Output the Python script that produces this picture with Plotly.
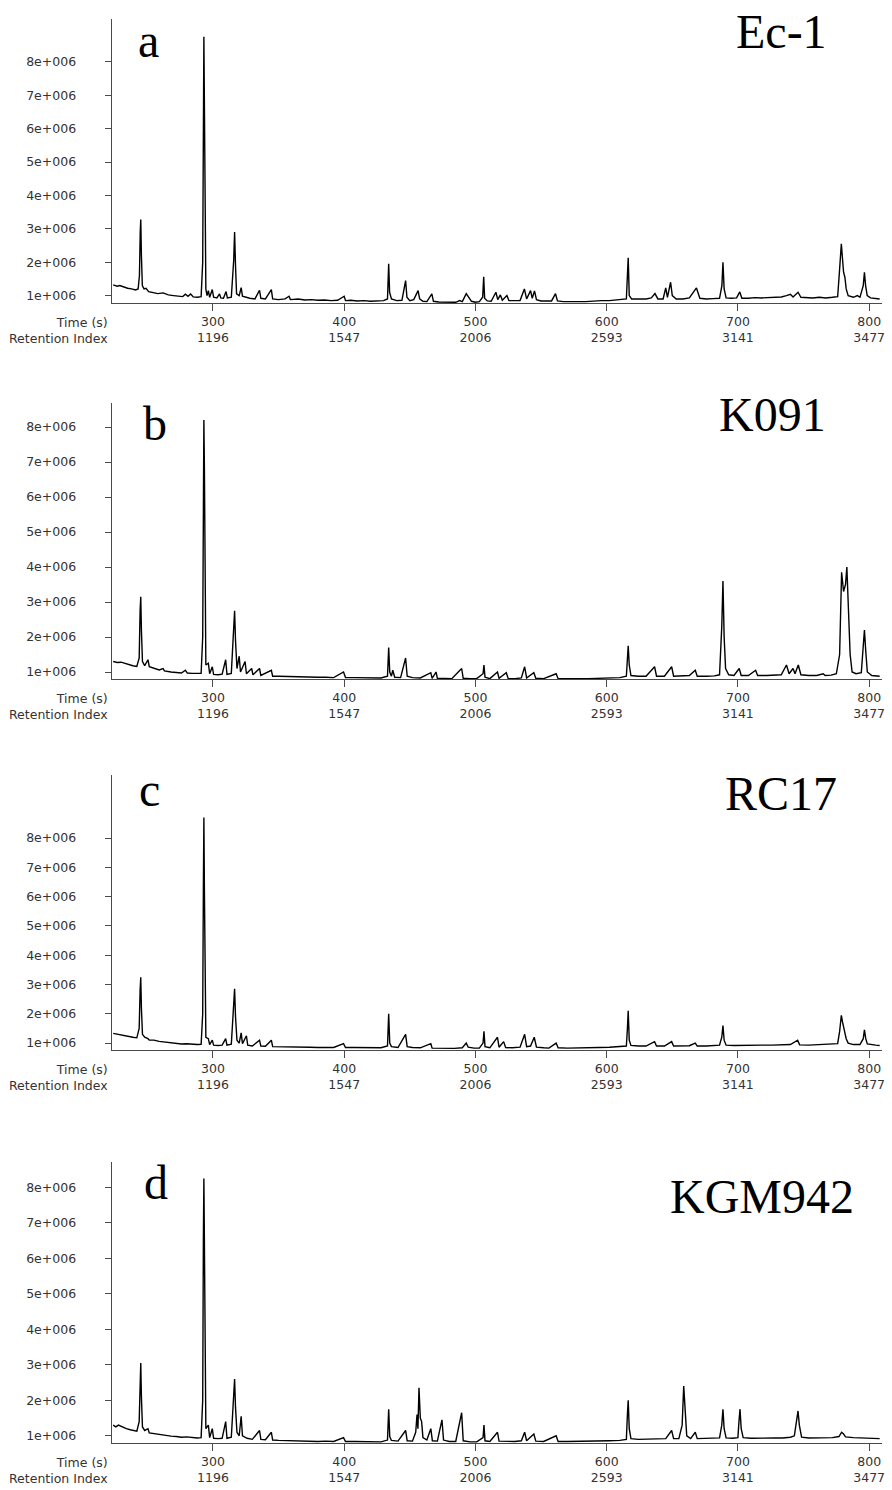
import plotly.graph_objects as go
import numpy as np

W, H = 892, 1490

# ---------------- data ----------------
time_ticks = [300, 400, 500, 600, 700, 800]
ri_labels = ["1196", "1547", "2006", "2593", "3141", "3477"]
int_ticks_m = [1, 2, 3, 4, 5, 6, 7, 8]
int_tick_labels = ["1e+006", "2e+006", "3e+006", "4e+006", "5e+006", "6e+006", "7e+006", "8e+006"]
panel_letters = ["a", "b", "c", "d"]
sample_names = ["Ec-1", "K091", "RC17", "KGM942"]

# (time s, intensity in millions)
trace_a = [
(224,1.32),(227,1.28),(229,1.3),(232,1.25),(235,1.22),(238,1.2),(241,1.17),(243,1.2),(244,1.6),(244.6,2.9),(245,3.28),(245.5,2.2),(246.2,1.3),
(247.5,1.2),(249,1.22),(251,1.12),(254,1.1),(258,1.06),(262,1.08),(266,1.02),(270,1.0),(274,0.98),(277,0.97),(279,1.04),(281,0.98),(283,1.05),
(285,0.96),(288,0.95),(291,0.97),(292.2,2.0),(292.7,6.7),(293.1,8.75),(293.5,6.7),(293.9,3.8),(294.6,1.2),(295.5,1.0),(296.5,1.15),(297.5,0.95),
(299.5,1.18),(300.5,0.95),(303,0.93),(305,1.05),(306,0.93),(308,0.92),(310,1.12),(311,0.93),(314,0.95),(315.8,2.05),(316.5,2.9),(317.2,1.9),
(318,1.05),(320,1.0),(321.5,1.24),(322.5,0.98),(325,0.95),(328,0.92),(332,0.9),(335.5,1.16),(336.5,0.92),(340,0.9),(344.5,1.18),(345.5,0.9),
(350,0.88),(355,0.9),(358,0.98),(359,0.88),(365,0.9),(370,0.87),(375,0.88),(380,0.86),(385,0.87),(390,0.85),(395,0.86),(400,0.98),(401,0.85),
(405,0.86),(410,0.84),(415,0.85),(420,0.83),(425,0.84),(430,0.85),(433,0.9),(433.9,1.95),(434.6,1.1),(436,0.9),(440,0.85),(444,0.86),(446.8,1.45),
(447.8,0.95),(450,0.85),(453,0.88),(456.3,1.15),(457.5,0.9),(460,0.83),(463,0.82),(466.8,1.05),(468,0.83),(472,0.81),(476,0.8),(480,0.79),(485,0.8),
(488,0.85),(490,0.82),(493,1.06),(494.5,0.98),(497,0.83),(500,0.8),(503,0.82),(505.5,0.95),(506.3,1.56),(507,0.92),(509,0.84),(512,0.83),(515.6,1.1),
(517,0.88),(519,1.02),(520.5,0.86),(524,1.0),(525.5,0.85),(530,0.84),(534,0.85),(537.3,1.2),(539,0.9),(542,1.15),(543.3,0.92),(545,1.14),(546.5,0.88),
(550,0.84),(555,0.83),(558,0.84),(561,1.06),(562.5,0.84),(567,0.82),(572,0.81),(578,0.82),(584,0.82),(590,0.84),(596,0.85),(602,0.85),(608,0.87),
(612,0.87),(615,0.9),(616.4,2.13),(617.2,1.0),(619,0.9),(625,0.89),(630,0.9),(634,0.93),(636.8,1.06),(639,0.9),(643,0.9),(645,1.23),(646.3,0.95),
(648.7,1.4),(650,1.0),(653,0.9),(658,0.9),(663,0.93),(668.4,1.23),(671,0.92),(676,0.9),(681,0.91),(686,0.92),(687.8,1.3),(688.6,2.0),(689.5,1.2),
(691,0.93),(695,0.92),(699,0.93),(701.4,1.11),(703,0.92),(708,0.92),(713,0.94),(718,0.93),(723,0.94),(728,0.94),(733,0.96),(737,1.0),(740,1.04),
(742,0.96),(745.8,1.1),(748,0.95),(752,0.94),(757,0.93),(762,0.95),(767,0.93),(772,0.95),(776,0.97),(777.5,1.8),(778.8,2.55),(779.5,2.2),(780.5,1.7),
(781.5,1.55),(782.5,1.2),(784,1.0),(788,0.95),(791,1.0),(793,0.95),(795.5,1.3),(796.4,1.7),(797.3,1.3),(798.5,1.0),(801,0.93),(805,0.92),(808,0.9)]

trace_b = [
(224,1.3),(227,1.27),(230,1.28),(233,1.24),(236,1.2),(239,1.18),(242,1.16),(243.8,1.4),(244.5,2.75),(245,3.15),(245.5,2.2),(246.3,1.3),(248,1.18),
(250.5,1.35),(251.5,1.15),(255,1.1),(259,1.06),(262,1.1),(263,1.03),(268,1.0),(272,0.98),(276,0.97),(279,1.05),(280.5,0.97),(284,0.96),(288,0.95),
(291,0.96),(292.2,2.0),(292.7,6.8),(293.1,8.2),(293.5,6.8),(293.9,3.9),(294.6,1.2),(296.5,1.25),(297.5,0.95),(299.5,1.15),(300.5,0.93),(304,0.92),
(307,0.94),(309.7,1.35),(310.7,0.93),(314,0.96),(315.8,2.15),(316.5,2.75),(317.2,1.9),(318.3,1.1),(320,1.45),(321,1.0),(324.5,1.3),(325.5,0.95),
(329.5,1.1),(330.5,0.92),(335.5,1.1),(336.5,0.9),(344.5,1.05),(345.5,0.88),(350,0.88),(356,0.87),(362,0.88),(368,0.86),(374,0.86),(380,0.85),
(386,0.85),(392,0.84),(399.5,1.0),(401,0.84),(408,0.84),(415,0.83),(422,0.83),(428,0.83),(433,0.88),(433.9,1.7),(434.7,1.0),(436,0.88),(437,1.05),
(438.5,0.85),(443,0.84),(446.8,1.4),(448,0.88),(452,0.84),(458,0.83),(466,0.98),(467,0.82),(470,1.0),(471,0.82),(476,0.81),(482,0.81),(489.5,1.1),
(490.7,0.82),(496,0.81),(501,0.81),(505.8,0.95),(506.5,1.2),(507.3,0.85),(511,0.81),(516.8,1.0),(518,0.82),(523.5,0.98),(525,0.81),(530,0.81),
(535,0.83),(537.5,1.15),(539,0.83),(544.5,0.98),(546,0.82),(552,0.81),(561.5,0.95),(563,0.81),(570,0.8),(578,0.81),(586,0.81),(594,0.82),(602,0.83),
(610,0.84),(615,0.88),(615.8,1.4),(616.4,1.75),(617.2,1.2),(618.5,0.9),(624,0.88),(630,0.88),(636.5,1.15),(638,0.88),(644,0.88),(649.5,1.15),
(651,0.88),(658,0.88),(663,0.9),(667.5,1.05),(669,0.88),(676,0.88),(682,0.89),(686,0.92),(687.7,2.3),(688.6,3.6),(689.5,2.0),(690.6,1.1),(693,0.92),
(697,0.9),(701,1.1),(702.5,0.9),(708,0.9),(713.5,1.05),(715,0.9),(722,0.9),(728,0.9),(733,0.92),(737,1.2),(739,0.95),(742,1.1),(743.5,0.95),
(746,1.2),(748,0.92),(754,0.9),(760,0.9),(765,0.95),(766.5,0.9),(771,0.91),(775,0.95),(777.5,1.5),(779,3.85),(780.5,3.3),(782,3.5),(783,4.0),
(784.2,2.6),(785.5,1.5),(787,1.0),(790,0.95),(794,0.98),(795.5,1.6),(796.4,2.2),(797.4,1.6),(798.6,1.0),(802,0.9),(805,0.9),(808,0.88)]

trace_c = [
(224,1.33),(227,1.3),(230,1.29),(233,1.25),(236,1.22),(239,1.2),(242,1.18),(243.8,1.5),(244.5,2.8),(245,3.25),(245.5,2.2),(246.3,1.3),(248,1.2),
(250.5,1.15),(251.5,1.1),(255,1.1),(259,1.06),(263,1.04),(268,1.0),(272,0.99),(276,0.97),(280,0.98),(284,0.96),(288,0.95),(291,0.96),(292.2,2.0),
(292.7,6.2),(293.1,8.7),(293.5,6.2),(293.9,3.55),(294.6,1.2),(296.5,1.15),(297.5,0.95),(299.5,1.1),(300.5,0.93),(304,0.92),(307,0.93),(309.7,1.15),
(310.7,0.93),(314,0.96),(315.8,2.1),(316.5,2.85),(317.2,1.9),(318.3,1.1),(320,1.0),(321.5,1.35),(322.5,0.98),(325.5,1.25),(326.5,0.93),(330,0.9),
(335.5,1.1),(336.5,0.9),(340,0.89),(344.5,1.1),(345.5,0.88),(350,0.88),(356,0.87),(362,0.88),(368,0.86),(374,0.86),(380,0.85),(386,0.86),(392,0.85),
(399.5,0.98),(401,0.85),(408,0.85),(415,0.84),(422,0.84),(428,0.84),(433,0.9),(433.9,2.0),(434.7,1.0),(436,0.88),(441,0.85),(446.8,1.3),(448,0.88),
(452,0.85),(458,0.84),(466,0.98),(467,0.83),(472,0.82),(478,0.82),(484,0.82),(490,0.84),(493,1.0),(494.5,0.86),(499,0.83),(503,0.83),(505.8,1.0),
(506.5,1.4),(507.3,0.88),(511,0.84),(516.8,1.2),(518,0.86),(521.5,1.05),(523,0.85),(528,0.84),(534,0.86),(537.5,1.3),(539,0.88),(542,0.9),(544.8,1.2),
(546.5,0.86),(552,0.84),(556,0.83),(561.5,1.0),(563,0.84),(570,0.83),(578,0.83),(586,0.84),(594,0.85),(602,0.86),(610,0.87),(615,0.9),(615.8,1.5),
(616.4,2.1),(617.2,1.1),(618.5,0.92),(624,0.9),(630,0.9),(636.5,1.05),(638,0.9),(644,0.9),(649.5,1.05),(651,0.9),(658,0.9),(663,0.91),(667.5,1.0),
(669,0.9),(676,0.9),(682,0.91),(686,0.93),(687.7,1.2),(688.6,1.6),(689.5,1.1),(691,0.93),(697,0.92),(703,0.93),(710,0.92),(718,0.93),(726,0.93),
(734,0.94),(740,0.95),(745.5,1.1),(747,0.94),(754,0.93),(760,0.94),(766,0.94),(772,0.95),(776,0.98),(777.5,1.4),(778.8,1.95),(779.8,1.7),(781,1.5),
(782.5,1.15),(784,1.0),(788,0.95),(793,0.95),(795.5,1.15),(796.4,1.45),(797.4,1.15),(798.6,0.97),(802,0.94),(805,0.93),(808,0.92)]

trace_d = [
(224,1.3),(226,1.25),(228,1.3),(231,1.24),(234,1.2),(237,1.17),(240,1.15),(242,1.13),(243.8,1.4),(244.5,2.6),(245,3.05),(245.5,2.1),(246.3,1.25),
(248,1.15),(250.5,1.2),(251.5,1.08),(255,1.06),(259,1.03),(263,1.02),(268,0.99),(272,0.98),(276,0.96),(280,0.97),(284,0.95),(288,0.94),(291,0.95),
(292.2,2.0),(292.7,6.45),(293.1,8.25),(293.5,6.45),(293.9,3.65),(294.6,1.2),(296.5,1.3),(297.5,0.95),(299.5,1.2),(300.5,0.93),(304,0.92),(307,0.93),
(309.7,1.4),(310.7,0.93),(314,0.96),(315.8,2.0),(316.5,2.6),(317.2,1.8),(318.3,1.1),(320,1.0),(321.5,1.55),(322.5,1.0),(326,0.93),(330,0.9),
(335.5,1.15),(336.5,0.9),(340,0.89),(344.5,1.1),(345.5,0.88),(350,0.87),(356,0.86),(362,0.87),(368,0.85),(374,0.85),(380,0.84),(386,0.85),(392,0.84),
(399.5,0.95),(401,0.84),(408,0.84),(415,0.83),(422,0.83),(428,0.83),(433,0.88),(433.9,1.75),(434.7,0.98),(436,0.87),(441,0.85),(446.8,1.15),(448,0.86),
(452,0.85),(454.5,1.1),(455.5,1.6),(456.2,1.2),(457,2.35),(458,1.5),(459,1.4),(460,0.95),(463,0.88),(466,1.2),(467.2,0.86),(471,0.85),(474.5,1.45),
(475.7,0.88),(480,0.84),(485,0.84),(489.5,1.65),(490.7,0.86),(496,0.83),(501,0.83),(505.8,0.95),(506.5,1.3),(507.3,0.86),(511,0.84),(516.8,1.1),
(518,0.85),(523,0.84),(530,0.84),(535,0.86),(537.5,1.1),(539,0.86),(544.5,1.05),(546,0.85),(552,0.84),(561.5,1.0),(563,0.84),(570,0.84),(578,0.84),
(586,0.85),(594,0.85),(602,0.86),(610,0.87),(615,0.9),(615.8,1.6),(616.4,2.0),(617.2,1.2),(618.5,0.92),(624,0.9),(630,0.9),(636,0.92),(640,0.9),
(645,0.92),(649.5,1.15),(651,0.92),(655,0.92),(657.5,1.3),(658.7,2.4),(659.7,1.6),(661,1.0),(664,0.92),(667.5,1.1),(669,0.92),(676,0.92),(682,0.93),
(686,0.94),(687.7,1.3),(688.6,1.75),(689.5,1.2),(691,0.94),(696,0.93),(700,0.95),(700.8,1.4),(701.6,1.75),(702.5,1.2),(704,0.95),(710,0.93),(716,0.94),
(722,0.93),(728,0.94),(734,0.94),(740,0.96),(743,1.0),(744.8,1.4),(745.8,1.7),(746.8,1.3),(748.5,0.96),(754,0.94),(760,0.94),(766,0.95),(772,0.95),
(777,0.98),(779,1.1),(780.5,1.05),(782,0.97),(788,0.95),(793,0.94),(797,0.95),(802,0.93),(805,0.93),(808,0.92)]

traces = [trace_a, trace_b, trace_c, trace_d]

# ---------------- geometry (pixels) ----------------
X_LEFT, X_RIGHT = 112, 885
T_LEFT, T_RIGHT = 222.8, 809.8
# per panel: axis top px, axis bottom px, px of 8e6 tick, px per 1e6
geo = [
    (19, 303, 61.8, 33.4),
    (403, 679, 427.0, 35.0),
    (775, 1050, 838.0, 29.3),
    (1162, 1443, 1187.3, 35.5),
]
letter_pos = [(149, 41), (156, 423), (150, 789), (157, 1182)]
name_pos = [(784, 32), (775, 414), (784, 793), (765, 1196)]

AX = "#4a4a4a"
TXT = "#333333"
LBL_FONT = dict(family="DejaVu Sans, Verdana, sans-serif", size=12.5, color=TXT)
SERIF = dict(family="Liberation Serif, Times New Roman, serif", size=48, color="black")

def py(p):
    return 1 - p / H

def px(p):
    return p / W

fig = go.Figure()
layout = dict(
    width=W, height=H, margin=dict(l=0, r=0, t=0, b=0),
    paper_bgcolor="white", plot_bgcolor="white", showlegend=False,
    annotations=[],
)

for i, tr in enumerate(traces):
    top, bot, p8, s = geo[i]
    p1 = p8 + 7 * s
    lo = 1 + (p1 - bot) / s
    hi = 1 + (p1 - top) / s
    sx = "" if i == 0 else str(i + 1)
    t = np.array([a for a, b in tr])
    v = np.array([b for a, b in tr]) * 1e6
    fig.add_trace(go.Scatter(x=t, y=v, mode="lines",
                             line=dict(color="black", width=1.4),
                             xaxis="x" + sx, yaxis="y" + sx, hoverinfo="skip"))
    layout["xaxis" + sx] = dict(
        domain=[px(X_LEFT), px(X_RIGHT)], range=[T_LEFT, T_RIGHT], anchor="y" + sx,
        tickvals=time_ticks,
        ticktext=[f"{a}<br>{b}" for a, b in zip(time_ticks, ri_labels)],
        showline=True, linecolor=AX, linewidth=1, ticks="outside", ticklen=7,
        tickcolor=AX, tickwidth=1, showgrid=False, zeroline=False,
        tickfont=LBL_FONT, ticklabelstandoff=0, fixedrange=True,
    )
    layout["yaxis" + sx] = dict(
        domain=[py(bot), py(top)], range=[lo * 1e6, hi * 1e6], anchor="x" + sx,
        tickvals=[m * 1e6 for m in int_ticks_m], ticktext=int_tick_labels,
        showline=True, linecolor=AX, linewidth=1, ticks="outside", ticklen=6,
        tickcolor=AX, tickwidth=1, showgrid=False, zeroline=False,
        tickfont=LBL_FONT, ticklabelstandoff=26, fixedrange=True,
    )
    layout["annotations"].append(dict(
        text="Time (s)<br>Retention Index", xref="paper", yref="paper",
        x=px(110), y=py(bot + 10), xanchor="right", yanchor="top", align="right",
        showarrow=False, font=LBL_FONT))
    lx, ly = letter_pos[i]
    layout["annotations"].append(dict(
        text=panel_letters[i], xref="paper", yref="paper", x=px(lx), y=py(ly),
        xanchor="center", yanchor="middle", showarrow=False, font=SERIF))
    nx, ny = name_pos[i]
    layout["annotations"].append(dict(
        text=sample_names[i], xref="paper", yref="paper", x=px(nx), y=py(ny),
        xanchor="center", yanchor="middle", showarrow=False, font=SERIF))

fig.update_layout(**layout)
fig.write_html("out.html")
